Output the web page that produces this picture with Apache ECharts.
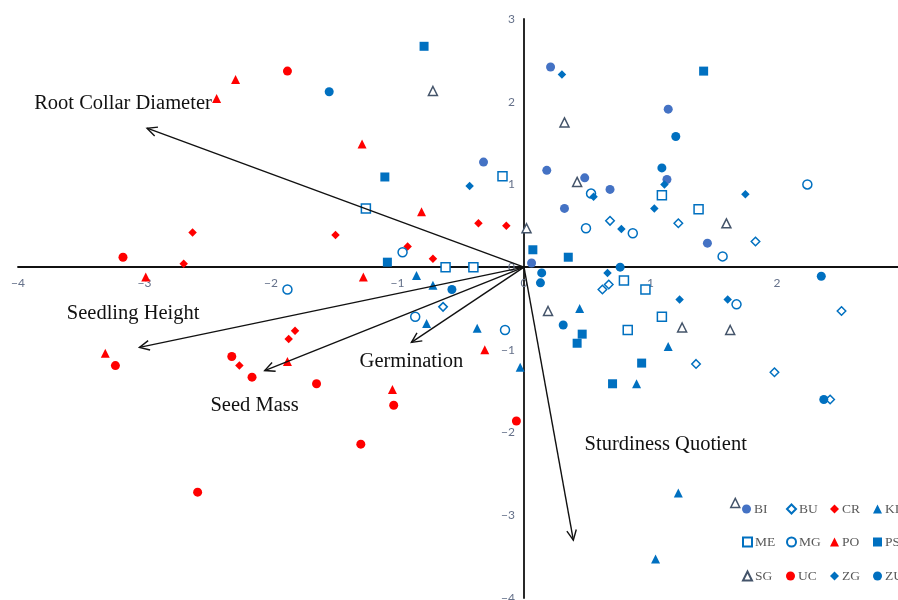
<!DOCTYPE html>
<html>
<head>
<meta charset="utf-8">
<script src="https://cdn.jsdelivr.net/npm/echarts@6/dist/echarts.min.js"></script>
<style>
html,body{margin:0;padding:0;background:#fff;}
#chart{width:898px;height:600px;}
</style>
</head>
<body>
<div id="chart"></div>
<script>
// ---- data (PCA scores per provenance) ----
const BI = [[0.21,2.42],[-0.32,1.27],[0.18,1.17],[0.48,1.08],[0.68,0.94],[0.32,0.71],[1.14,1.91],[1.13,1.06],[1.45,0.29],[0.06,0.05]];
const BU = [[-0.64,-0.48],[0.68,0.56],[1.22,0.53],[1.83,0.31],[0.62,-0.27],[0.67,-0.21],[2.51,-0.53],[1.36,-1.17],[1.98,-1.27],[2.42,-1.60]];
const CR = [[-2.62,0.42],[-2.69,0.04],[-1.49,0.39],[-0.92,0.25],[-0.72,0.10],[-0.36,0.53],[-0.14,0.50],[-1.81,-0.77],[-1.86,-0.87],[-2.25,-1.19]];
const KI = [[-0.85,-0.10],[-0.72,-0.22],[-0.77,-0.68],[-0.37,-0.74],[-0.03,-1.21],[0.44,-0.50],[1.14,-0.96],[0.89,-1.41],[1.22,-2.73],[1.04,-3.53]];
const ME = [[-1.25,0.71],[-0.17,1.10],[-0.62,0.00],[-0.40,0.00],[1.09,0.87],[1.38,0.70],[0.79,-0.16],[0.96,-0.27],[1.09,-0.60],[0.82,-0.76]];
const MG = [[-0.96,0.18],[-1.87,-0.27],[-0.86,-0.60],[-0.15,-0.76],[0.49,0.47],[0.53,0.89],[0.86,0.41],[1.57,0.13],[1.68,-0.45],[2.24,1.00]];
const PO = [[-2.43,2.04],[-2.28,2.27],[-1.28,1.49],[-0.81,0.67],[-1.27,-0.12],[-2.99,-0.12],[-3.31,-1.04],[-1.87,-1.14],[-1.04,-1.48],[-0.31,-1.00]];
const PS = [[-0.79,2.67],[-1.10,1.09],[-1.08,0.06],[0.07,0.21],[0.35,0.12],[1.42,2.37],[0.46,-0.81],[0.42,-0.92],[0.93,-1.16],[0.70,-1.41]];
const SG = [[-0.72,2.13],[0.32,1.75],[0.42,1.03],[0.02,0.47],[1.60,0.53],[0.19,-0.53],[1.25,-0.73],[1.63,-0.76],[1.67,-2.85]];
const UC = [[-1.87,2.37],[-3.17,0.12],[-2.31,-1.08],[-3.23,-1.19],[-2.15,-1.33],[-1.64,-1.41],[-1.03,-1.67],[-1.29,-2.14],[-2.58,-2.72],[-0.06,-1.86]];
const ZG = [[0.30,2.33],[-0.43,0.98],[0.55,0.85],[1.11,1.00],[1.75,0.88],[1.03,0.71],[0.77,0.46],[0.66,-0.07],[1.23,-0.39],[1.61,-0.39]];
const ZU = [[-1.54,2.12],[1.20,1.58],[1.09,1.20],[-0.57,-0.27],[0.14,-0.07],[0.13,-0.19],[0.31,-0.70],[0.76,0.00],[2.35,-0.11],[2.37,-1.60]];

// loading vectors (variable arrows)
const loadingNames = ['Root Collar Diameter','Seedling Height','Seed Mass','Germination','Sturdiness Quotient'];
const loadingX = [-2.98,-3.04,-2.05,-0.89,0.39];
const loadingY = [1.68,-0.97,-1.25,-0.91,-3.30];
// where each vector's caption sits (data coordinates)
const loadingLabelX = [-3.17,-3.09,-2.13,-0.89,1.12];
const loadingLabelY = [1.98,-0.56,-1.67,-1.14,-2.14];

const xTicks = [-4,-3,-2,-1,0,1,2,3];
const yTicks = [-4,-3,-2,-1,0,1,2,3];

// ---- styles ----
const RED = '#FF0000', BLUE = '#0070C0', BIBLUE = '#4472C4', SLATE = '#44546A';
const styles = {
  BI:{symbol:'circle', fill:BIBLUE, stroke:BIBLUE, size:9},
  BU:{symbol:'diamond', fill:'#fff', stroke:BLUE, size:8.5},
  CR:{symbol:'diamond', fill:RED, stroke:RED, size:8.5},
  KI:{symbol:'triangle', fill:BLUE, stroke:BLUE, size:9},
  ME:{symbol:'rect', fill:'#fff', stroke:BLUE, size:9},
  MG:{symbol:'circle', fill:'#fff', stroke:BLUE, size:9},
  PO:{symbol:'triangle', fill:RED, stroke:RED, size:9},
  PS:{symbol:'rect', fill:BLUE, stroke:BLUE, size:9},
  SG:{symbol:'triangle', fill:'#fff', stroke:SLATE, size:9},
  UC:{symbol:'circle', fill:RED, stroke:RED, size:9},
  ZG:{symbol:'diamond', fill:BLUE, stroke:BLUE, size:8.5},
  ZU:{symbol:'circle', fill:BLUE, stroke:BLUE, size:9}
};
const groups = {BI,BU,CR,KI,ME,MG,PO,PS,SG,UC,ZG,ZU};

const scatterSeries = Object.keys(groups).map(name => {
  const s = styles[name];
  const hollow = s.fill === '#fff';
  return {
    name, type:'scatter', data:groups[name], symbol:s.symbol, symbolSize:s.size,
    itemStyle:{color:s.fill, borderColor:s.stroke, borderWidth: hollow ? 1.5 : 0, opacity:1},
    emphasis:{disabled:true}, z:3
  };
});

const arrowData = loadingNames.map((n,i)=>[loadingX[i], loadingY[i], loadingLabelX[i], loadingLabelY[i]]);

const arrowSeries = {
  type:'custom', name:'loadings', data:arrowData, z:5, silent:true,
  encode:{x:0, y:1},
  renderItem(params, api){
    const o = api.coord([0,0]);
    const t = api.coord([api.value(0), api.value(1)]);
    const lp = api.coord([api.value(2), api.value(3)]);
    const ang = Math.atan2(t[1]-o[1], t[0]-o[0]);
    const L = 11, a = 0.45;
    const p1 = [t[0]-L*Math.cos(ang-a), t[1]-L*Math.sin(ang-a)];
    const p2 = [t[0]-L*Math.cos(ang+a), t[1]-L*Math.sin(ang+a)];
    return {type:'group', children:[
      {type:'line', shape:{x1:o[0],y1:o[1],x2:t[0],y2:t[1]}, style:{stroke:'#111',lineWidth:1.4}},
      {type:'polyline', shape:{points:[p1,t,p2]}, style:{stroke:'#111',lineWidth:1.4,fill:null}},
      {type:'text', style:{text:loadingNames[params.dataIndex], x:lp[0], y:lp[1], align:'center', verticalAlign:'middle',
        font:'20.5px "Liberation Serif", "DejaVu Serif", serif', fill:'#111'}}
    ]};
  }
};

// legend laid out as a 3 x 4 table
const legendRows = [['BI','BU','CR','KI'],['ME','MG','PO','PS'],['SG','UC','ZG','ZU']];
const legendColLeft = [742, 786, 830, 873];
const legendRowTop = [502, 535, 569];
const legends = [];
legendRows.forEach((row,r)=>row.forEach((name,c)=>{
  legends.push({
    data:[name], left:legendColLeft[c], top:legendRowTop[r], orient:'horizontal', padding:0,
    itemWidth:9, itemHeight:9, itemGap:0, selectedMode:false,
    textStyle:{fontFamily:'"Liberation Serif", serif', fontSize:13.5, color:'#595959', padding:[0,0,0,-2]}
  });
}));

const tickFmt = v => String(v).replace('-', '\u2212');
const labelFont = 'Lato, "Open Sans", sans-serif';

const option = {
  animation:false,
  backgroundColor:'#fff',
  grid:{left:18, right:-5.5, top:19, bottom:2, containLabel:false, outerBoundsMode:'none'},
  xAxis:{type:'value', min:xTicks[0], max:xTicks[xTicks.length-1], interval:1, position:'bottom',
    axisLine:{onZero:false, lineStyle:{color:'#111', width:1.8}},
    axisTick:{show:false}, splitLine:{show:false},
    axisLabel:{formatter:tickFmt, color:'#65718a', fontFamily:labelFont, fontSize:12, margin:10, hideOverlap:false}},
  yAxis:{type:'value', min:yTicks[0], max:yTicks[yTicks.length-1], interval:1, position:'left',
    axisLine:{onZero:false, lineStyle:{color:'#111', width:1.8}},
    axisTick:{show:false}, splitLine:{show:false},
    axisLabel:{formatter:tickFmt, color:'#65718a', fontFamily:labelFont, fontSize:12, margin:9, hideOverlap:false}},
  legend:legends,
  series:[...scatterSeries, arrowSeries]
};

const chart = echarts.init(document.getElementById('chart'), null, {renderer:'canvas'});
chart.setOption(option);
// move both axes (line + labels) so they cross at the origin, using the chart's own scales
const zero = chart.convertToPixel({gridIndex:0}, [0,0]);
const corner = chart.convertToPixel({gridIndex:0}, [xTicks[0], yTicks[0]]);
chart.setOption({
  xAxis:{offset: zero[1] - corner[1]},
  yAxis:{offset: corner[0] - zero[0]}
});
</script>
</body>
</html>
